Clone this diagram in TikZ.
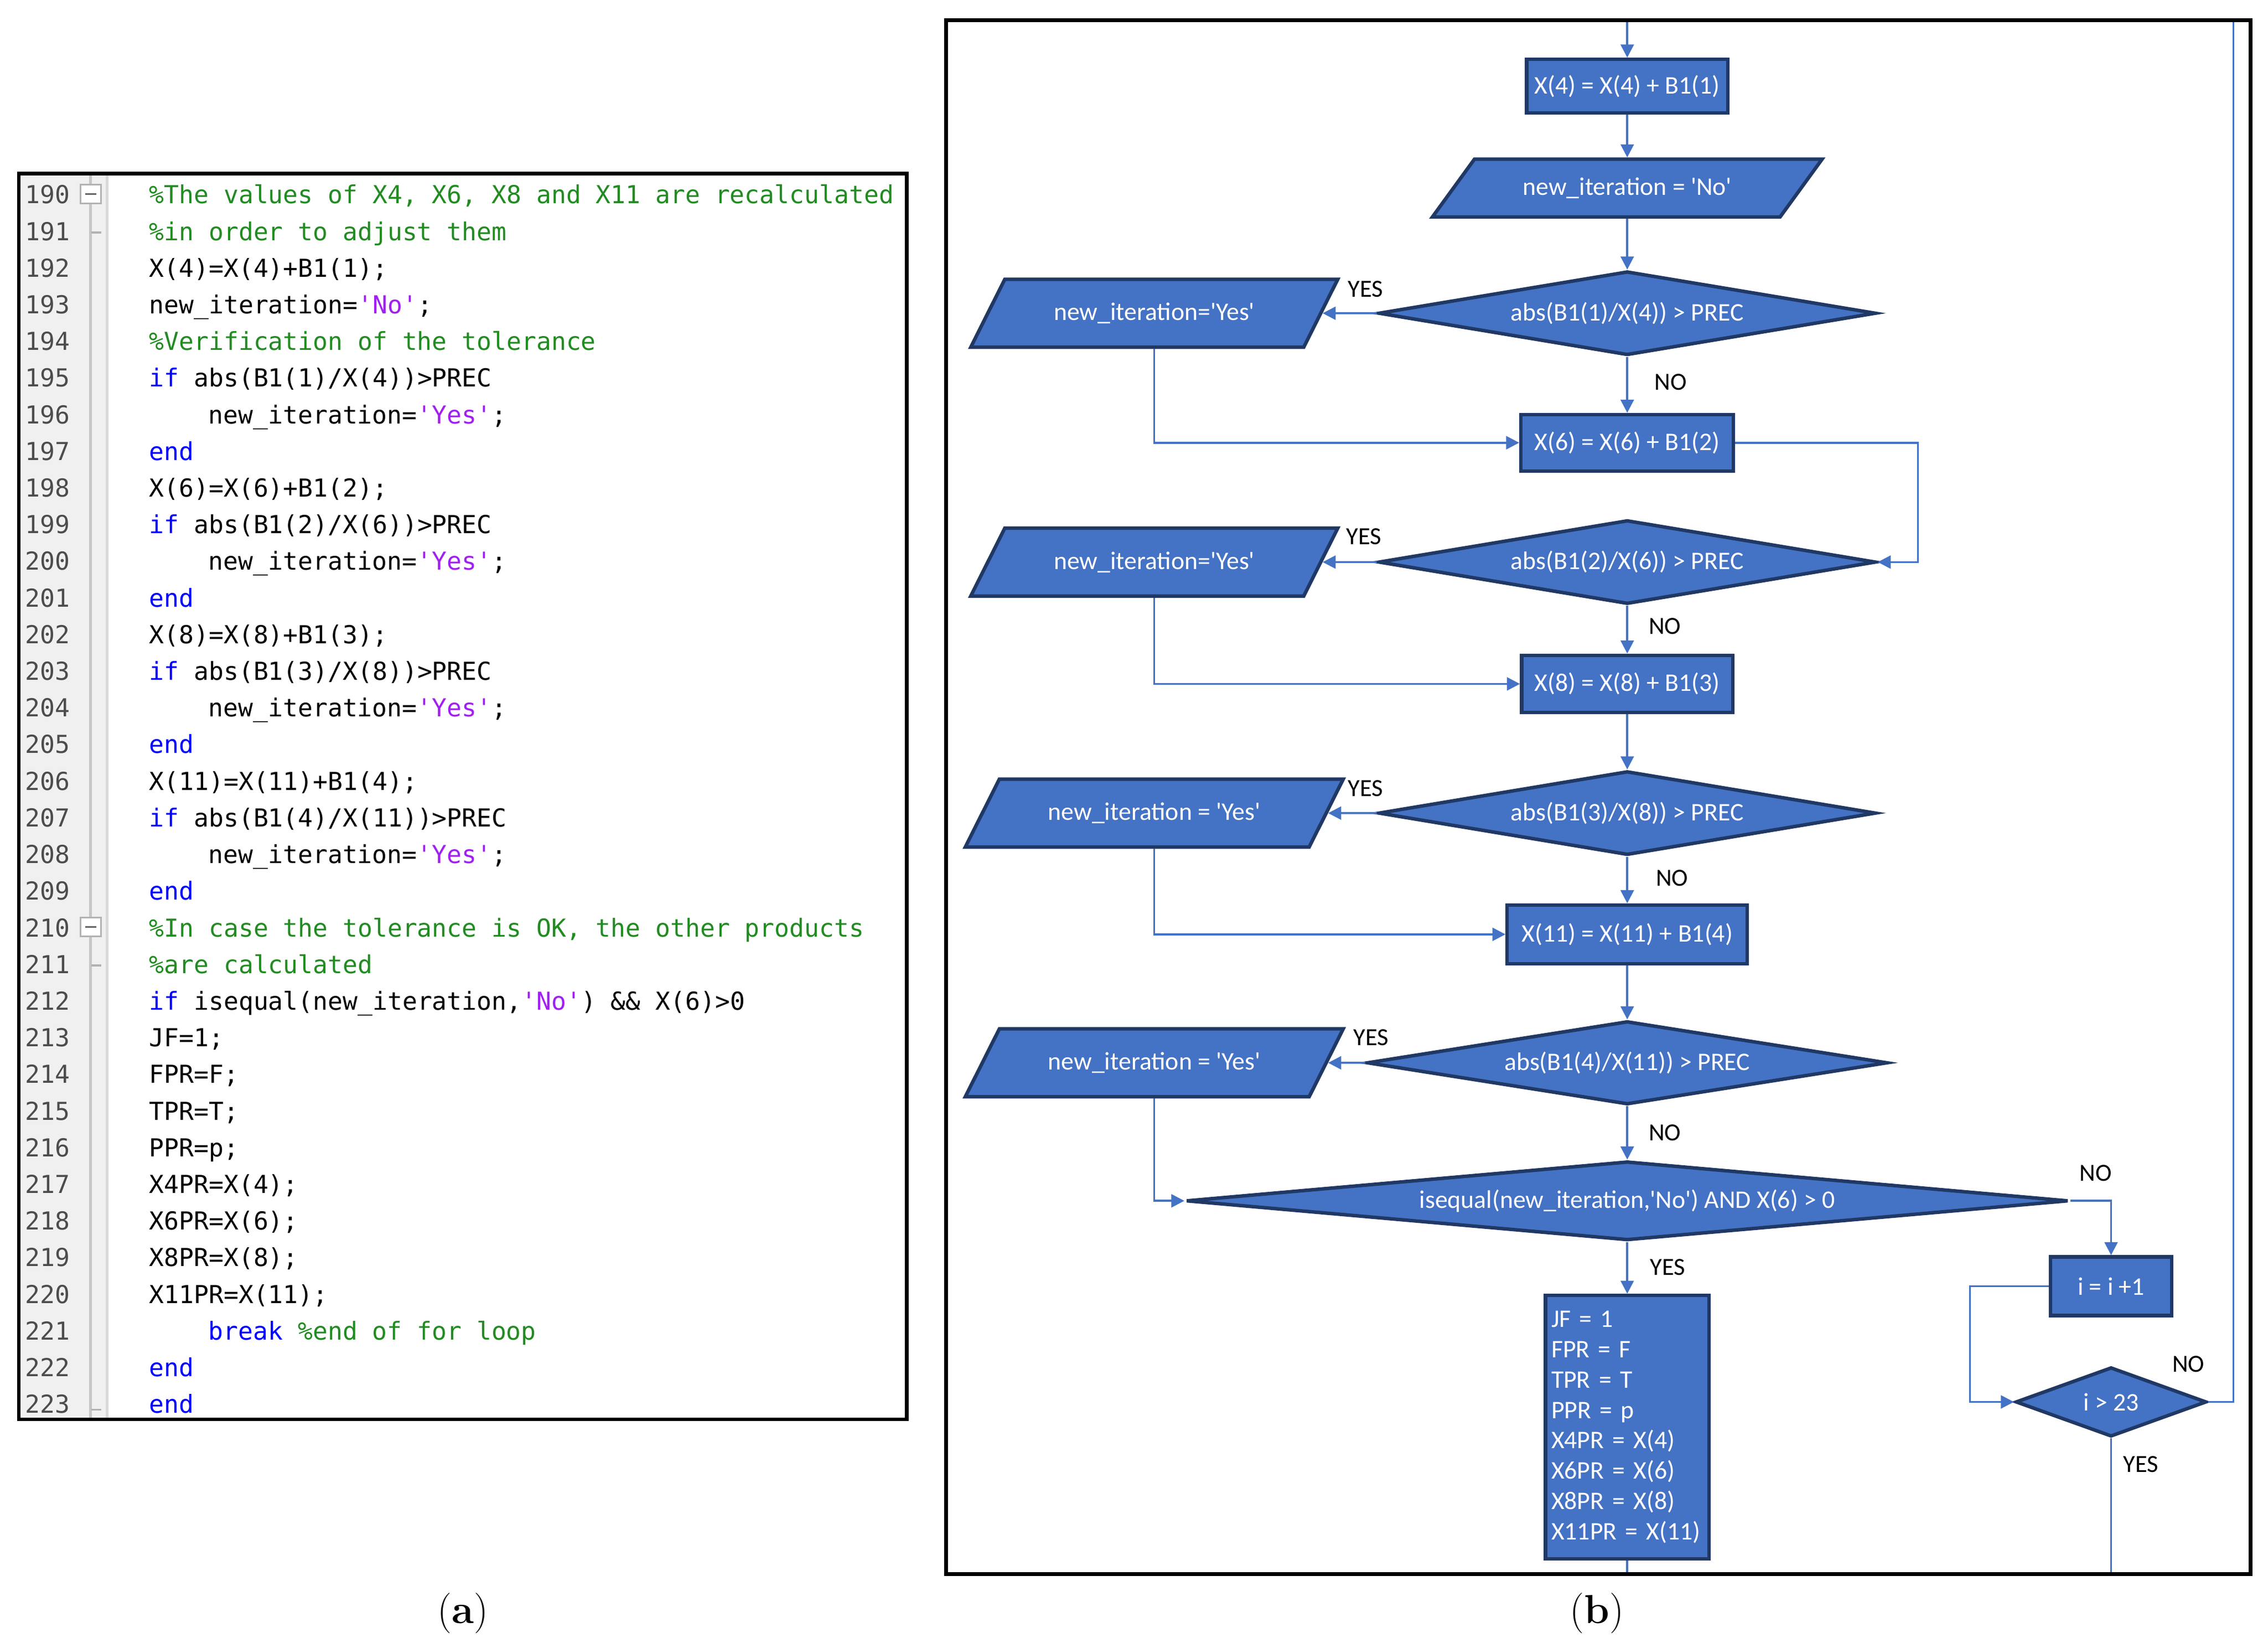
\documentclass[tikz,border=0pt]{standalone}
\usepackage{fontspec}
\usetikzlibrary{shapes.geometric,arrows.meta,calc}
\newfontfamily\codefont{DejaVu Sans Mono}
\newfontfamily\fcfont{Carlito}
\definecolor{cgreen}{HTML}{228B22}
\definecolor{ckw}{HTML}{0000FF}
\definecolor{cstr}{HTML}{A020F0}
\definecolor{fcblue}{HTML}{4472C4}
\definecolor{fcedge}{HTML}{203864}
\definecolor{gutterbg}{HTML}{F0F0F0}
\newcommand\mcmt[1]{\textcolor{cgreen}{#1}}
\newcommand\mkw[1]{\textcolor{ckw}{#1}}
\newcommand\mstr[1]{\textcolor{cstr}{#1}}
\begin{document}
\begin{tikzpicture}[x=1pt,y=-1pt,
  codeln/.style={anchor=base west, inner sep=0pt, font=\codefont\fontsize{17.1}{20}\selectfont},
  lnum/.style={anchor=base east, inner sep=0pt, text=black!70, font=\codefont\fontsize{17.1}{20}\selectfont},
  box/.style={draw=fcedge, fill=fcblue, line width=2.4pt, text=white, inner sep=0pt,
    font=\fcfont\fontsize{17.5}{21}\selectfont},
  dia/.style={box, diamond},
  para/.style={box, trapezium, trapezium stretches=true},
  conn/.style={draw=fcblue, line width=1.4pt},
  arr/.style={conn, -{Triangle[length=9pt,width=9pt]}},
  lbl/.style={font=\fcfont\fontsize{17}{20}\selectfont, inner sep=0pt},
  captext/.style={font=\fontsize{28}{34}\selectfont, inner sep=0pt}]
\useasboundingbox (0,0) rectangle (1568,1139);
\fill[white] (0,0) rectangle (1568,1139);

% ---------------- panel (a): code ----------------
\fill[gutterbg] (13,120) rectangle (74,981);
\draw[gray!45, line width=2pt] (62.5,120) -- (62.5,981);
\draw[gray!30, line width=2pt] (74,120) -- (74,981);
\node[draw=gray!60, fill=white, line width=1.2pt, minimum width=14, minimum height=13, inner sep=0pt] (fold190) at (62.8,134.1) {};
\draw[black!60, line width=1.2pt] (59,134.1) -- (66.5,134.1);
\node[draw=gray!60, fill=white, line width=1.2pt, minimum width=14, minimum height=13, inner sep=0pt] (fold210) at (62.8,640.8) {};
\draw[black!60, line width=1.2pt] (59,640.8) -- (66.5,640.8);
\draw[gray!60, line width=1.2pt] (63,160.7) -- (70,160.7);
\draw[gray!60, line width=1.2pt] (63,667.3) -- (70,667.3);
\draw[gray!60, line width=1.2pt] (63,974.4) -- (70,974.4);

\begin{scope}[shift={(0,140.8)}, y=-25.33pt]
\foreach \n [count=\k from 0] in {190,...,223} \node[lnum] (n\n) at (48.5,\k) {\n};
\node[codeln] (c190) at (103,0) {\mcmt{\%The values of X4, X6, X8 and X11 are recalculated}};
\node[codeln] (c191) at (103,1) {\mcmt{\%in order to adjust them}};
\node[codeln] (c192) at (103,2) {X(4)=X(4)+B1(1);};
\node[codeln] (c193) at (103,3) {new\_iteration=\mstr{'No'};};
\node[codeln] (c194) at (103,4) {\mcmt{\%Verification of the tolerance}};
\node[codeln] (c195) at (103,5) {\mkw{if} abs(B1(1)/X(4))>PREC};
\node[codeln] (c196) at (144,6) {new\_iteration=\mstr{'Yes'};};
\node[codeln] (c197) at (103,7) {\mkw{end}};
\node[codeln] (c198) at (103,8) {X(6)=X(6)+B1(2);};
\node[codeln] (c199) at (103,9) {\mkw{if} abs(B1(2)/X(6))>PREC};
\node[codeln] (c200) at (144,10) {new\_iteration=\mstr{'Yes'};};
\node[codeln] (c201) at (103,11) {\mkw{end}};
\node[codeln] (c202) at (103,12) {X(8)=X(8)+B1(3);};
\node[codeln] (c203) at (103,13) {\mkw{if} abs(B1(3)/X(8))>PREC};
\node[codeln] (c204) at (144,14) {new\_iteration=\mstr{'Yes'};};
\node[codeln] (c205) at (103,15) {\mkw{end}};
\node[codeln] (c206) at (103,16) {X(11)=X(11)+B1(4);};
\node[codeln] (c207) at (103,17) {\mkw{if} abs(B1(4)/X(11))>PREC};
\node[codeln] (c208) at (144,18) {new\_iteration=\mstr{'Yes'};};
\node[codeln] (c209) at (103,19) {\mkw{end}};
\node[codeln] (c210) at (103,20) {\mcmt{\%In case the tolerance is OK, the other products}};
\node[codeln] (c211) at (103,21) {\mcmt{\%are calculated}};
\node[codeln] (c212) at (103,22) {\mkw{if} isequal(new\_iteration,\mstr{'No'}) \&\& X(6)>0};
\node[codeln] (c213) at (103,23) {JF=1;};
\node[codeln] (c214) at (103,24) {FPR=F;};
\node[codeln] (c215) at (103,25) {TPR=T;};
\node[codeln] (c216) at (103,26) {PPR=p;};
\node[codeln] (c217) at (103,27) {X4PR=X(4);};
\node[codeln] (c218) at (103,28) {X6PR=X(6);};
\node[codeln] (c219) at (103,29) {X8PR=X(8);};
\node[codeln] (c220) at (103,30) {X11PR=X(11);};
\node[codeln] (c221) at (144,31) {\mkw{break} \mcmt{\%end of for loop}};
\node[codeln] (c222) at (103,32) {\mkw{end}};
\node[codeln] (c223) at (103,33) {\mkw{end}};
\end{scope}
\draw[black, line width=2.5pt] (13,120) rectangle (627,981);

% ---------------- panel (b): flowchart ----------------
\coordinate (topIn) at (1125,14);
\node[box, minimum width=139, minimum height=37] (b1) at (1125,59.5) {X(4) = X(4) + B1(1)};
\node[para, trapezium left angle=36, trapezium right angle=144, minimum width=270, minimum height=40] (pNo) at (1125,130) {new\_iteration = 'No'};
\node[dia, aspect=5.93, minimum width=344, minimum height=58] (d1) at (1125,216.5) {abs(B1(1)/X(4)) > PREC};
\node[para, trapezium left angle=42.4, trapezium right angle=137.6, minimum width=254, minimum height=47] (p1) at (798,216.5) {new\_iteration='Yes'};
\node[box, minimum width=147, minimum height=39] (b2) at (1125,306) {X(6) = X(6) + B1(2)};
\node[dia, aspect=5.93, minimum width=344, minimum height=58] (d2) at (1125,388.5) {abs(B1(2)/X(6)) > PREC};
\node[para, trapezium left angle=42.4, trapezium right angle=137.6, minimum width=254, minimum height=47] (p2) at (798,388.5) {new\_iteration='Yes'};
\node[box, minimum width=146, minimum height=39.6] (b3) at (1125,472.7) {X(8) = X(8) + B1(3)};
\node[dia, aspect=5.93, minimum width=344, minimum height=58] (d3) at (1125,562) {abs(B1(3)/X(8)) > PREC};
\node[para, trapezium left angle=41.8, trapezium right angle=138.2, minimum width=262, minimum height=47] (p3) at (798,562) {new\_iteration = 'Yes'};
\node[box, minimum width=166, minimum height=40.5] (b4) at (1125,645.8) {X(11) = X(11) + B1(4)};
\node[dia, aspect=6.28, minimum width=360, minimum height=57.6] (d4) at (1125,734.6) {abs(B1(4)/X(11)) > PREC};
\node[para, trapezium left angle=41.8, trapezium right angle=138.2, minimum width=262, minimum height=47] (p4) at (798,734.6) {new\_iteration = 'Yes'};
\node[dia, aspect=11.2, minimum width=610, minimum height=54.6] (d5) at (1125,830) {isequal(new\_iteration,'No') AND X(6) > 0};
\node[box, minimum width=113, minimum height=182, align=left, text width=105] (jf) at (1125,986.4)
  {JF = 1\\FPR = F\\TPR = T\\PPR = p\\X4PR = X(4)\\X6PR = X(6)\\X8PR = X(8)\\X11PR = X(11)};
\node[box, minimum width=84, minimum height=40.5] (bi) at (1459.5,889) {i = i +1};
\node[dia, aspect=2.75, minimum width=132, minimum height=48] (d6) at (1459.5,969) {i > 23};

\coordinate (r2) at (1326,350);
\coordinate (l6) at (1362,930);
\coordinate (loopTop) at (1544,14);
\coordinate (jfOut) at (1125,1088);
\coordinate (d6Out) at (1459.5,1088);

\draw[arr] (topIn) -- (b1.north);
\draw[arr] (b1.south) -- (b1.south |- pNo.north);
\draw[arr] (pNo.center |- pNo.south) -- (d1.north);
\draw[arr] (d1.west) -- (p1.east);
\draw[arr] (d1.south) -- (b2.north);
\draw[arr] (p1.center |- p1.south) |- (b2.west);
\draw[arr] (b2.east) -| (r2) |- (d2.east);
\draw[arr] (d2.west) -- (p2.east);
\draw[arr] (d2.south) -- (b3.north);
\draw[arr] (p2.center |- p2.south) |- (b3.west);
\draw[arr] (b3.south) -- (d3.north);
\draw[arr] (d3.west) -- (p3.east);
\draw[arr] (d3.south) -- (b4.north);
\draw[arr] (p3.center |- p3.south) |- (b4.west);
\draw[arr] (b4.south) -- (d4.north);
\draw[arr] (d4.west) -- (p4.east);
\draw[arr] (d4.south) -- (d5.north);
\draw[arr] (p4.center |- p4.south) |- (d5.west);
\draw[arr] (d5.east) -| (bi.north);
\draw[arr] (d5.south) -- (jf.north);
\draw[conn] (jf.south) -- (jfOut);
\draw[arr] (bi.west) -| (l6) |- (d6.west);
\draw[conn] (d6.east) -| (loopTop);
\draw[conn] (d6.south) -- (d6Out);

\node[lbl] (y1) at (944,200) {YES};
\node[lbl] (n1) at (1155,264) {NO};
\node[lbl] (y2) at (943,371) {YES};
\node[lbl] (n2) at (1151,433) {NO};
\node[lbl] (y3) at (944,545) {YES};
\node[lbl] (n3) at (1156,607) {NO};
\node[lbl] (y4) at (948,717) {YES};
\node[lbl] (n4) at (1151,783) {NO};
\node[lbl] (n5) at (1449,811) {NO};
\node[lbl] (y5) at (1153,876) {YES};
\node[lbl] (n6) at (1513,943) {NO};
\node[lbl] (y6) at (1480,1012) {YES};

\draw[black, line width=2.5pt] (654,14) rectangle (1556,1088);

\node[captext] (capA) at (320,1115) {(\textbf{a})};
\node[captext] (capB) at (1104,1115) {(\textbf{b})};
\end{tikzpicture}
\end{document}
